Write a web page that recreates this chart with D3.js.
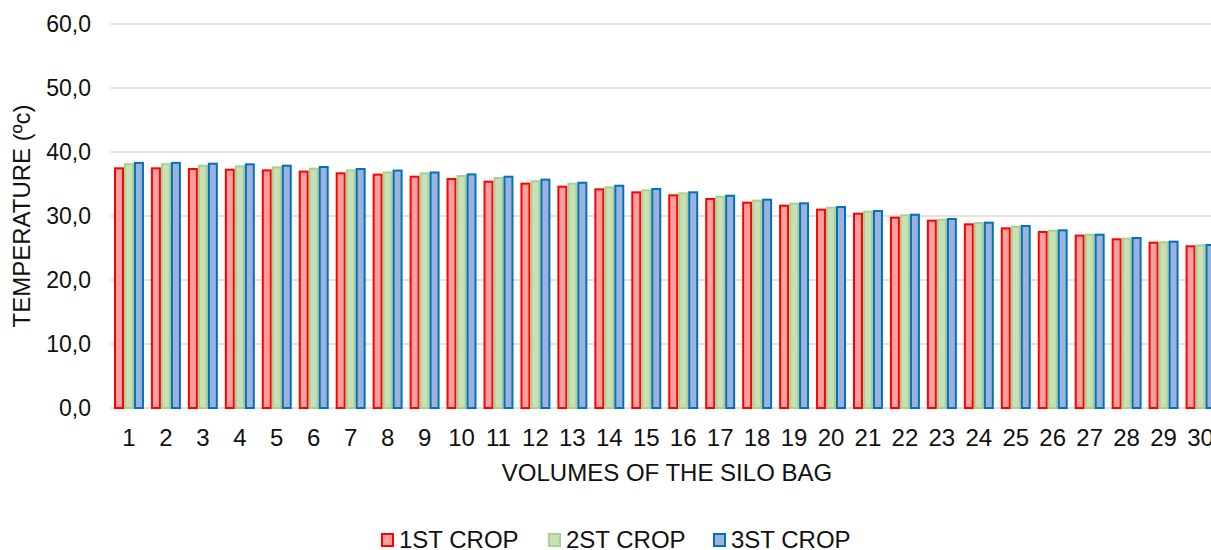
<!DOCTYPE html>
<html>
<head>
<meta charset="utf-8">
<script src="https://cdn.jsdelivr.net/npm/d3@7"></script>
<style>
  html, body { margin: 0; padding: 0; background: #fff; }
  svg { display: block; font-family: "Liberation Sans", Arial, sans-serif; }
</style>
</head>
<body>
<div id="chart"></div>
<script>
const volumes = d3.range(1, 31).map(String);
const crop1 = [37.45, 37.45, 37.34, 37.24, 37.13, 36.93, 36.67, 36.46, 36.14, 35.78,
  35.36, 35.05, 34.58, 34.17, 33.70, 33.23, 32.66, 32.08, 31.61, 30.99,
  30.36, 29.74, 29.27, 28.70, 28.07, 27.50, 26.93, 26.36, 25.83, 25.27];
const crop2 = [38.10, 38.10, 37.86, 37.76, 37.60, 37.40, 37.13, 36.82, 36.67, 36.25,
  35.94, 35.42, 35.05, 34.48, 34.01, 33.54, 33.02, 32.40, 31.92, 31.30,
  30.68, 30.10, 29.43, 28.90, 28.33, 27.70, 27.08, 26.46, 25.89, 25.42];
const crop3 = [38.30, 38.30, 38.17, 38.07, 37.86, 37.66, 37.34, 37.10, 36.80, 36.50,
  36.14, 35.68, 35.20, 34.73, 34.22, 33.70, 33.17, 32.55, 31.98, 31.40,
  30.78, 30.20, 29.53, 28.96, 28.44, 27.76, 27.08, 26.56, 25.99, 25.47];
const seriesNames = ['1ST CROP', '2ST CROP', '3ST CROP'];
const yTicks = [0, 10, 20, 30, 40, 50, 60];

const fills = ['#FF9F9F', '#C9DFB8', '#9DB2DB'];
const strokes = ['#FF0000', '#A9D18E', '#0070C0'];
const ink = '#111';

const width = 1211, height = 550;
const margin = { top: 24, left: 110.5, bottom: 142 };
const bandW = 36.95;

const svg = d3.select('#chart').append('svg')
  .attr('width', width).attr('height', height);

const x = d3.scaleBand().domain(volumes)
  .range([margin.left, margin.left + bandW * volumes.length])
  .paddingInner(7 / bandW).paddingOuter(3.5 / bandW);
const y = d3.scaleLinear().domain([0, 60]).range([height - margin.bottom, margin.top]);
const xs = d3.scaleBand().domain([0, 1, 2]).range([0, x.bandwidth()]);

// gridlines
svg.append('g').selectAll('line').data(yTicks).join('line')
  .attr('x1', margin.left).attr('x2', width)
  .attr('y1', (d) => y(d)).attr('y2', (d) => y(d))
  .attr('stroke', '#D9D9D9').attr('stroke-width', 1.5);

// y tick labels
svg.append('g').selectAll('text').data(yTicks).join('text')
  .attr('x', 91).attr('y', (d) => y(d)).attr('dy', '0.35em')
  .attr('text-anchor', 'end').attr('font-size', 23).attr('fill', ink)
  .text((d) => d3.format('.1f')(d).replace('.', ','));

// bars
const series = [crop1, crop2, crop3];
const groups = svg.append('g').selectAll('g').data(volumes).join('g')
  .attr('transform', (d) => `translate(${x(d)},0)`);
groups.selectAll('rect')
  .data((d, i) => series.map((s, k) => ({ k, v: s[i] })))
  .join('rect')
  .attr('x', (d) => xs(d.k) + 1)
  .attr('width', xs.bandwidth() - 2)
  .attr('y', (d) => y(d.v))
  .attr('height', (d) => y(0) - y(d.v))
  .attr('fill', (d) => fills[d.k])
  .attr('stroke', (d) => strokes[d.k])
  .attr('stroke-width', 2);

// x tick labels
svg.append('g').selectAll('text').data(volumes).join('text')
  .attr('x', (d) => x(d) + x.bandwidth() / 2).attr('y', 438).attr('dy', '0.35em')
  .attr('text-anchor', 'middle').attr('font-size', 24).attr('fill', ink)
  .text((d) => d);

// axis titles
svg.append('text').attr('x', 667).attr('y', 473).attr('dy', '0.35em')
  .attr('text-anchor', 'middle').attr('font-size', 24).attr('fill', ink)
  .text('VOLUMES OF THE SILO BAG');
svg.append('text').attr('transform', 'translate(22,216) rotate(-90)').attr('dy', '0.35em')
  .attr('text-anchor', 'middle').attr('font-size', 24).attr('fill', ink)
  .text('TEMPERATURE (ºc)');

// legend
const legendX = [382, 549, 714];
const legend = svg.append('g').selectAll('g').data(seriesNames).join('g')
  .attr('transform', (d, i) => `translate(${legendX[i]},540)`);
legend.append('rect').attr('x', 0).attr('y', -6).attr('width', 11).attr('height', 12)
  .attr('fill', (d, i) => fills[i]).attr('stroke', (d, i) => strokes[i]).attr('stroke-width', 2);
legend.append('text').attr('x', 17).attr('dy', '0.35em')
  .attr('font-size', 24).attr('fill', ink).text((d) => d);
</script>
</body>
</html>
